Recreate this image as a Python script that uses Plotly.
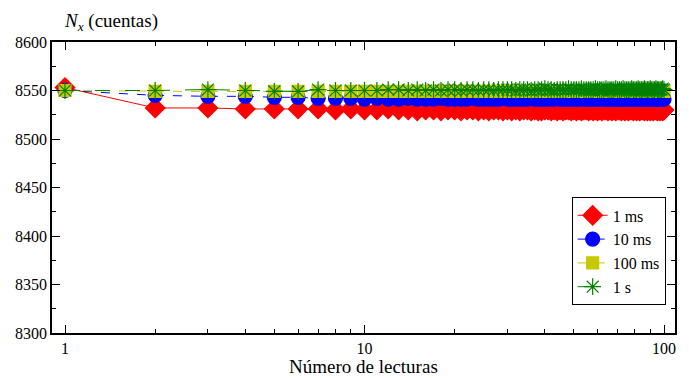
import plotly.graph_objects as go

lecturas = list(range(1, 101))

ms1 = [8553, 8532, 8532, 8531, 8531, 8531, 8531, 8530, 8531, 8530,
       8530, 8531, 8530, 8530, 8529, 8530, 8530, 8529, 8530, 8530,
       8529, 8530, 8530, 8529, 8530, 8529, 8530, 8530, 8529, 8530,
       8529, 8530, 8529, 8530, 8530, 8529, 8530, 8529, 8529, 8530,
       8530, 8529, 8530, 8529, 8530, 8529, 8530, 8530, 8529, 8530,
       8529, 8530, 8529, 8530, 8530, 8529, 8530, 8529, 8530, 8529,
       8530, 8529, 8530, 8530, 8529, 8530, 8529, 8530, 8529, 8530,
       8530, 8529, 8530, 8529, 8530, 8529, 8530, 8530, 8529, 8530,
       8529, 8530, 8529, 8530, 8530, 8529, 8530, 8529, 8530, 8529,
       8530, 8529, 8530, 8530, 8529, 8530, 8529, 8530, 8529, 8530]

ms10 = [8550, 8545, 8544, 8544, 8543, 8543, 8542, 8542, 8542, 8541,
        8542, 8541, 8541, 8542, 8541, 8541, 8541, 8542, 8541, 8541,
        8541, 8541, 8542, 8541, 8541, 8541, 8541, 8541, 8542, 8541,
        8541, 8541, 8541, 8541, 8541, 8542, 8541, 8541, 8541, 8541,
        8541, 8541, 8541, 8542, 8541, 8541, 8541, 8541, 8541, 8541,
        8541, 8541, 8542, 8541, 8541, 8541, 8541, 8541, 8541, 8541,
        8541, 8542, 8541, 8541, 8541, 8541, 8541, 8541, 8541, 8541,
        8541, 8541, 8541, 8541, 8541, 8541, 8542, 8541, 8541, 8541,
        8541, 8541, 8541, 8541, 8541, 8541, 8541, 8541, 8542, 8541,
        8541, 8541, 8541, 8541, 8541, 8541, 8541, 8541, 8541, 8541]

ms100 = [8550, 8549, 8549, 8549, 8549, 8549, 8549, 8549, 8549, 8549,
         8549, 8549, 8549, 8549, 8549, 8549, 8549, 8549, 8549, 8549,
         8549, 8549, 8549, 8549, 8549, 8549, 8549, 8549, 8549, 8549,
         8549, 8549, 8549, 8549, 8549, 8549, 8549, 8549, 8549, 8549,
         8549, 8549, 8549, 8549, 8549, 8549, 8549, 8549, 8549, 8549,
         8549, 8549, 8549, 8549, 8549, 8549, 8549, 8549, 8549, 8549,
         8549, 8549, 8549, 8549, 8549, 8549, 8549, 8549, 8549, 8549,
         8549, 8549, 8549, 8549, 8549, 8549, 8549, 8549, 8549, 8549,
         8549, 8549, 8549, 8549, 8549, 8549, 8549, 8549, 8549, 8549,
         8549, 8549, 8549, 8549, 8549, 8549, 8549, 8549, 8549, 8549]

s1 = [8550, 8550, 8551, 8550, 8549, 8549, 8551, 8550, 8550, 8550,
      8550, 8551, 8551, 8550, 8551, 8550, 8551, 8550, 8551, 8551,
      8550, 8551, 8551, 8550, 8551, 8551, 8550, 8551, 8551, 8551,
      8551, 8550, 8551, 8551, 8551, 8550, 8551, 8551, 8551, 8552,
      8551, 8551, 8550, 8551, 8551, 8551, 8551, 8552, 8551, 8551,
      8551, 8551, 8552, 8551, 8551, 8551, 8551, 8551, 8552, 8551,
      8551, 8551, 8551, 8552, 8551, 8551, 8551, 8551, 8552, 8551,
      8551, 8551, 8552, 8551, 8551, 8551, 8551, 8552, 8551, 8551,
      8551, 8552, 8551, 8551, 8551, 8552, 8551, 8551, 8551, 8552,
      8551, 8551, 8551, 8552, 8551, 8551, 8551, 8551, 8552, 8551]

series = [
    ("1 ms", ms1, "red", "diamond", 15, "solid"),
    ("10 ms", ms10, "blue", "circle", 14, "dash"),
    ("100 ms", ms100, "#c8c800", "square", 12, "dash"),
    ("1 s", s1, "green", "asterisk-open", 14, "longdash"),
]

fig = go.Figure()
for name, vals, color, sym, size, dash in series:
    fig.add_trace(go.Scatter(
        x=lecturas, y=vals, name=name, mode="lines+markers",
        line=dict(color=color, width=1, dash=dash),
        marker=dict(symbol=sym, size=size, color=color,
                    line=dict(color=color, width=1.2)),
    ))

font = "Liberation Serif, Times New Roman, Times, serif"
fig.update_layout(
    width=689, height=378,
    margin=dict(l=52, r=12, t=42, b=45),
    paper_bgcolor="white", plot_bgcolor="white",
    font=dict(family=font, size=16, color="black"),
    showlegend=True,
    legend=dict(x=0.985, y=0.466, xanchor="right", yanchor="top",
                bordercolor="black", borderwidth=1, bgcolor="white",
                font=dict(family=font, size=16), itemwidth=30, tracegroupgap=0),
    annotations=[
        dict(text="<i>N<sub>x</sub></i> (cuentas)", x=0, y=1.0,
             xref="paper", yref="paper", xanchor="left", yanchor="bottom",
             xshift=10, yshift=6, showarrow=False,
             font=dict(family=font, size=19)),
        dict(text="Número de lecturas", x=0.5, y=0,
             xref="paper", yref="paper", xanchor="center", yanchor="top",
             yshift=-21, showarrow=False,
             font=dict(family=font, size=19)),
    ],
)
fig.update_xaxes(
    type="log", range=[-0.0434, 2.0367],
    tickvals=[1, 10, 100], ticktext=["1", "10", "100"],
    tickfont=dict(family=font, size=16),
    ticks="inside", ticklen=8, tickcolor="black",
    minor=dict(ticks="inside", ticklen=4, tickvals=[2, 3, 4, 5, 6, 7, 8, 9, 20, 30, 40, 50, 60, 70, 80, 90], tickcolor="black"),
    showline=True, linecolor="black", linewidth=1.5, mirror="ticks",
    showgrid=False, zeroline=False,
)
fig.update_yaxes(
    range=[8300, 8600], tickvals=[8300, 8350, 8400, 8450, 8500, 8550, 8600],
    tickfont=dict(family=font, size=16),
    ticks="inside", ticklen=8, tickcolor="black",
    minor=dict(ticks="inside", ticklen=4, dtick=25, tick0=8300, tickcolor="black"),
    showline=True, linecolor="black", linewidth=1.5, mirror="ticks",
    showgrid=False, zeroline=False,
)
fig.write_html("out.html", config={"displayModeBar": False},
               post_script="document.body.style.margin='0';")
